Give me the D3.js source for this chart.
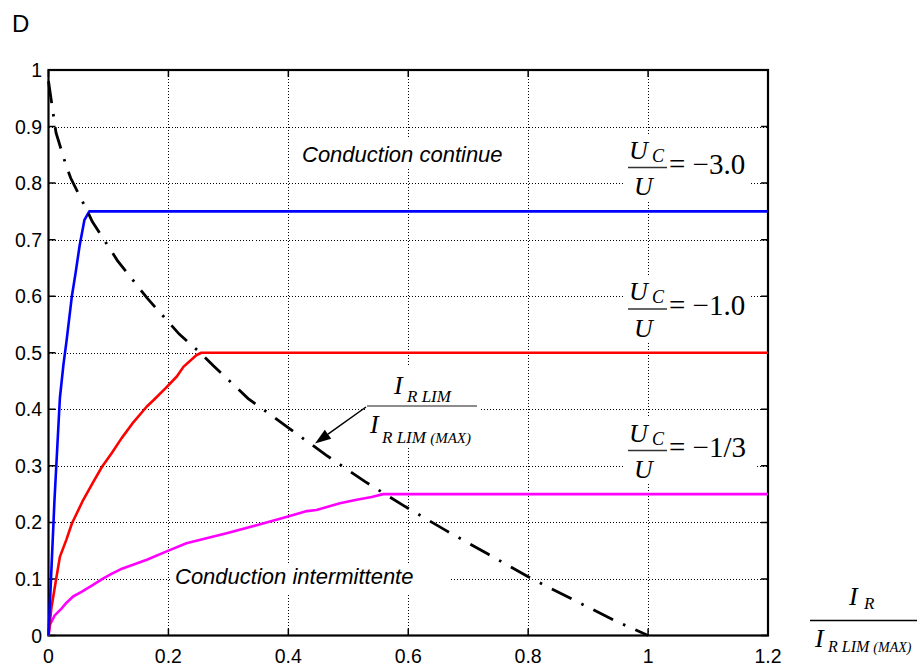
<!DOCTYPE html>
<html>
<head>
<meta charset="utf-8">
<script src="https://cdn.jsdelivr.net/npm/d3@7"></script>
<style>
  html, body { margin: 0; padding: 0; background: #fff; }
  svg { display: block; }
  .sans { font-family: "Liberation Sans", Arial, Helvetica, sans-serif; }
  .serif { font-family: "Liberation Serif", "Times New Roman", serif; }
</style>
</head>
<body>
<svg id="chart" width="917" height="667"></svg>
<script>
// Axis ticks
const xTicks = [0, 0.2, 0.4, 0.6, 0.8, 1, 1.2];
const yTicks = [0, 0.1, 0.2, 0.3, 0.4, 0.5, 0.6, 0.7, 0.8, 0.9, 1];

// Uc/U = -3.0
const blueX = [0, 0.005, 0.01, 0.015, 0.019, 0.025, 0.03, 0.039, 0.045, 0.052, 0.06, 0.068, 1.2];
const blueY = [0, 0.12, 0.24, 0.34, 0.42, 0.48, 0.52, 0.6, 0.64, 0.69, 0.735, 0.75, 0.75];

// Uc/U = -1.0
const redX = [0, 0.005, 0.0125, 0.019, 0.03, 0.039, 0.058, 0.075, 0.089, 0.105, 0.122, 0.14, 0.164, 0.175, 0.195, 0.214, 0.225, 0.247, 0.255, 1.2];
const redY = [0, 0.05, 0.098, 0.139, 0.17, 0.198, 0.24, 0.272, 0.298, 0.322, 0.349, 0.375, 0.405, 0.416, 0.437, 0.458, 0.475, 0.496, 0.5, 0.5];

// Uc/U = -1/3
const magX = [0, 0.0025, 0.01, 0.022, 0.03, 0.041, 0.055, 0.075, 0.09, 0.105, 0.12, 0.141, 0.164, 0.2, 0.23, 0.26, 0.297, 0.347, 0.398, 0.431, 0.447, 0.486, 0.514, 0.539, 0.558, 1.2];
const magY = [0, 0.019, 0.035, 0.048, 0.058, 0.069, 0.077, 0.09, 0.1, 0.109, 0.117, 0.125, 0.134, 0.15, 0.163, 0.171, 0.181, 0.195, 0.21, 0.22, 0.222, 0.234, 0.24, 0.245, 0.25, 0.25];

// Boundary I_R LIM / I_R LIM(MAX)
const limX = [0, 0.0125, 0.03, 0.037, 0.064, 0.073, 0.115, 0.165, 0.218, 0.253, 0.275, 0.333, 0.398, 0.463, 0.528, 0.595, 0.664, 0.733, 0.803, 0.945, 1.0];
const limY = [0.98, 0.889, 0.829, 0.809, 0.752, 0.732, 0.663, 0.596, 0.533, 0.5, 0.477, 0.419, 0.369, 0.319, 0.272, 0.228, 0.185, 0.144, 0.102, 0.026, 0];

const svg = d3.select("#chart");
const plotL = 48.5, plotR = 768, plotT = 70, plotB = 635.5;
const x = d3.scaleLinear().domain([0, 1.2]).range([plotL, plotR]);
const y = d3.scaleLinear().domain([0, 1]).range([plotB, plotT]);

// dotted grid
const grid = svg.append("g").attr("stroke", "#000").attr("stroke-width", 1)
  .attr("stroke-dasharray", "1,2").attr("shape-rendering", "crispEdges");
grid.selectAll(".gx").data(xTicks.slice(1, -1)).join("line")
  .attr("x1", d => Math.round(x(d)) + 0.5).attr("x2", d => Math.round(x(d)) + 0.5)
  .attr("y1", plotT).attr("y2", plotB);
grid.selectAll(".gy").data(yTicks.slice(1, -1)).join("line")
  .attr("y1", d => Math.round(y(d)) + 0.5).attr("y2", d => Math.round(y(d)) + 0.5)
  .attr("x1", plotL).attr("x2", plotR);

// white label backgrounds
const boxes = [
  [298, 138, 207, 30],
  [172, 565, 278, 28],
  [623, 135, 126, 65],
  [623, 277, 127, 66],
  [625, 418, 130, 65],
  [366, 367, 114, 80]
];
svg.append("g").selectAll("rect").data(boxes).join("rect")
  .attr("x", d => d[0]).attr("y", d => d[1]).attr("width", d => d[2]).attr("height", d => d[3])
  .attr("fill", "#fff");

// axes box + inward ticks
const ax = svg.append("g").attr("stroke", "#000").attr("fill", "none");
ax.append("rect").attr("x", plotL).attr("y", plotT).attr("width", plotR - plotL).attr("height", plotB - plotT)
  .attr("stroke-width", 2.2);
const tl = 7;
ax.selectAll(".tx").data(xTicks).join("path").attr("stroke-width", 1.5)
  .attr("d", d => `M${x(d)},${plotB}v${-tl}M${x(d)},${plotT}v${tl}`);
ax.selectAll(".ty").data(yTicks).join("path").attr("stroke-width", 1.5)
  .attr("d", d => `M${plotL},${y(d)}h${tl}M${plotR},${y(d)}h${-tl}`);

// tick labels
svg.append("g").attr("class", "sans").attr("font-size", 19.5).attr("text-anchor", "middle")
  .selectAll("text").data(xTicks).join("text")
  .attr("x", d => x(d)).attr("y", 663).text(d => d3.format("~g")(d));
svg.append("g").attr("class", "sans").attr("font-size", 19.5).attr("text-anchor", "end")
  .selectAll("text").data(yTicks).join("text")
  .attr("x", 42).attr("y", d => y(d) + 7).text(d => d3.format("~g")(d));

// curves
const line = d3.line().x(d => x(d[0])).y(d => y(d[1]));
const zip = (a, b) => a.map((v, i) => [v, b[i]]);
const curves = [
  { pts: zip(magX, magY), color: "#ff00ff" },
  { pts: zip(redX, redY), color: "#ff0000" },
  { pts: zip(blueX, blueY), color: "#0000ff" }
];
svg.append("g").selectAll("path").data(curves).join("path")
  .attr("d", d => line(d.pts)).attr("fill", "none")
  .attr("stroke", d => d.color).attr("stroke-width", 2.6).attr("stroke-linejoin", "round");
svg.append("path").attr("d", line(zip(limX, limY))).attr("fill", "none")
  .attr("stroke", "#000").attr("stroke-width", 2.8)
  .attr("stroke-dasharray", "22,11,2.5,11");

// region labels
svg.append("text").attr("class", "sans").attr("font-size", 22).attr("font-style", "italic")
  .attr("x", 302).attr("y", 162).text("Conduction continue");
svg.append("text").attr("class", "sans").attr("font-size", 22).attr("font-style", "italic")
  .attr("x", 175).attr("y", 584).text("Conduction intermittente");

// "D" axis name
svg.append("text").attr("class", "sans").attr("font-size", 24)
  .attr("x", 12).attr("y", 32).text("D");

// Uc/U fraction labels
function ratioLabel(bx, by, value) {
  const g = svg.append("g").attr("class", "serif").attr("fill", "#000");
  g.append("text").attr("x", bx + 1).attr("y", by - 9).attr("font-size", 26)
    .attr("font-style", "italic").text("U");
  g.append("text").attr("x", bx + 24).attr("y", by - 6).attr("font-size", 18)
    .attr("font-style", "italic").text("C");
  g.append("line").attr("x1", bx).attr("x2", bx + 39).attr("y1", by).attr("y2", by)
    .attr("stroke", "#333").attr("stroke-width", 1.3);
  g.append("text").attr("x", bx + 6).attr("y", by + 27.5).attr("font-size", 26)
    .attr("font-style", "italic").text("U");
  g.append("text").attr("x", bx + 41).attr("y", by + 6).attr("font-size", 29)
    .text("= \u2212" + value);
}
ratioLabel(628, 167.5, "3.0");
ratioLabel(628, 309, "1.0");
ratioLabel(628, 450.5, "1/3");

// I_R LIM / I_R LIM(MAX) label with arrow
const lim = svg.append("g").attr("class", "serif").attr("font-style", "italic");
lim.append("text").attr("x", 394).attr("y", 394).attr("font-size", 26).text("I");
lim.append("text").attr("x", 407).attr("y", 401.5).attr("font-size", 17).text("R LIM");
lim.append("line").attr("x1", 367).attr("x2", 477).attr("y1", 406).attr("y2", 406)
  .attr("stroke", "#666").attr("stroke-width", 1.5);
lim.append("text").attr("x", 370).attr("y", 433).attr("font-size", 26).text("I");
const dn = lim.append("text").attr("x", 382).attr("y", 442.5).attr("font-size", 17);
dn.append("tspan").text("R LIM ");
dn.append("tspan").attr("font-size", 15).text("(MAX)");

// arrow pointing to the boundary curve
const a0 = [366, 407], a1 = [315, 443.5];
const ang = Math.atan2(a1[1] - a0[1], a1[0] - a0[0]);
const hl = 16, hw = 5.5;
const bxp = a1[0] - hl * Math.cos(ang), byp = a1[1] - hl * Math.sin(ang);
svg.append("line").attr("x1", a0[0]).attr("y1", a0[1]).attr("x2", bxp).attr("y2", byp)
  .attr("stroke", "#000").attr("stroke-width", 1.5);
svg.append("path").attr("fill", "#000")
  .attr("d", `M${a1[0]},${a1[1]}L${bxp + hw * Math.sin(ang)},${byp - hw * Math.cos(ang)}L${bxp - hw * Math.sin(ang)},${byp + hw * Math.cos(ang)}Z`);

// x-axis quantity I_R / I_R LIM(MAX)
const xl = svg.append("g").attr("class", "serif").attr("font-style", "italic");
xl.append("text").attr("x", 849).attr("y", 605).attr("font-size", 26).text("I");
xl.append("text").attr("x", 864).attr("y", 608.5).attr("font-size", 17).text("R");
xl.append("line").attr("x1", 810).attr("x2", 917).attr("y1", 620.5).attr("y2", 620.5)
  .attr("stroke", "#000").attr("stroke-width", 1.3);
xl.append("text").attr("x", 815).attr("y", 646.5).attr("font-size", 26).text("I");
const xd = xl.append("text").attr("x", 828).attr("y", 651.5).attr("font-size", 16);
xd.append("tspan").text("R LIM ");
xd.append("tspan").attr("font-size", 14).text("(MAX)");
</script>
</body>
</html>
